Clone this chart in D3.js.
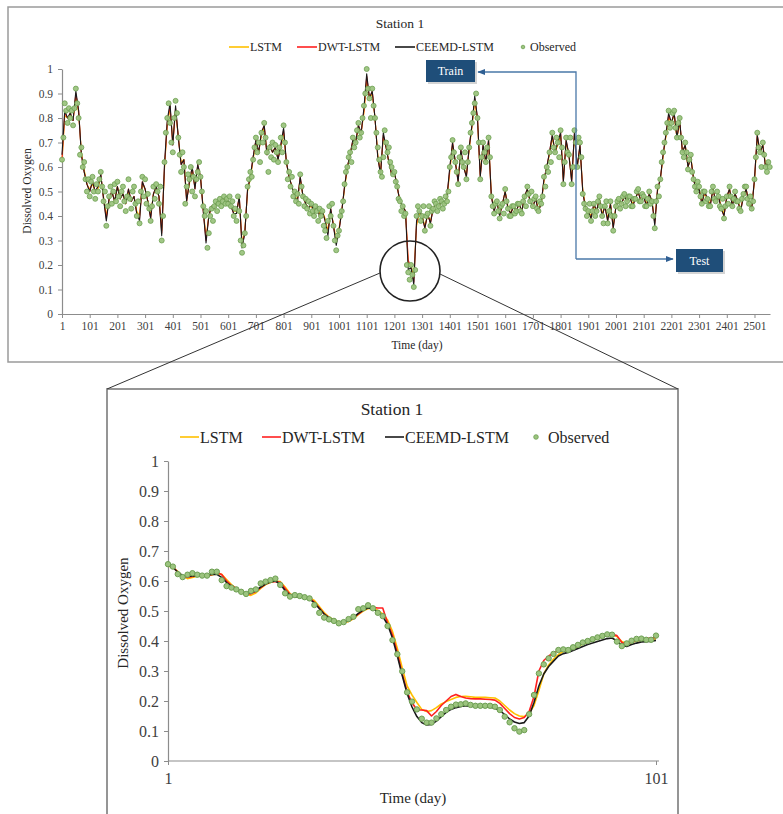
<!DOCTYPE html>
<html>
<head>
<meta charset="utf-8">
<script src="https://cdn.jsdelivr.net/npm/d3@7"></script>
<style>
  body { margin: 0; background: #fff; }
  svg text { font-family: "Liberation Serif", "Times New Roman", serif; fill: #404040; }
</style>
</head>
<body>
<div id="chart"></div>
<script>
// ---- data ----
var seriesNames = ["LSTM", "DWT-LSTM", "CEEMD-LSTM", "Observed"];
var seriesColors = ["#ffc000", "#ff2020", "#1a1a1a", "#9cc47f"];
var yTicks = [0, 0.1, 0.2, 0.3, 0.4, 0.5, 0.6, 0.7, 0.8, 0.9, 1];
var yTickLabels = ["0", "0.1", "0.2", "0.3", "0.4", "0.5", "0.6", "0.7", "0.8", "0.9", "1"];
var topXTicks = [1, 101, 201, 301, 401, 501, 601, 701, 801, 901, 1001, 1101, 1201,
                 1301, 1401, 1501, 1601, 1701, 1801, 1901, 2001, 2101, 2201, 2301, 2401, 2501];
var zoomXTicks = [1, 101];
var topLastDay = 2557;
var topObsStep = 5;    // observed record read every 5th day
var topModelStep = 10; // model curves read every 10th day

// observed, full record (day 1, 6, 11, ...), one row per 100 days
var topObserved = [
  0.63, 0.72, 0.86, 0.83, 0.78, 0.84, 0.80, 0.83, 0.77, 0.84, 0.92, 0.86, 0.80, 0.65, 0.68, 0.60, 0.62, 0.55, 0.50, 0.55,
  0.48, 0.54, 0.56, 0.50, 0.47, 0.53, 0.50, 0.55, 0.58, 0.52, 0.46, 0.50, 0.36, 0.44, 0.48, 0.52, 0.45, 0.50, 0.53, 0.46,
  0.54, 0.48, 0.44, 0.50, 0.52, 0.46, 0.42, 0.48, 0.55, 0.47, 0.43, 0.50, 0.52, 0.45, 0.40, 0.46, 0.37, 0.50, 0.56, 0.48,
  0.55, 0.45, 0.49, 0.43, 0.38, 0.44, 0.52, 0.47, 0.53, 0.50, 0.45, 0.52, 0.30, 0.40, 0.62, 0.74, 0.80, 0.86, 0.78, 0.70,
  0.66, 0.80, 0.87, 0.82, 0.72, 0.65, 0.58, 0.66, 0.60, 0.45, 0.52, 0.57, 0.55, 0.60, 0.50, 0.56, 0.48, 0.55, 0.58, 0.62,
  0.56, 0.50, 0.44, 0.40, 0.42, 0.27, 0.33, 0.40, 0.43, 0.38, 0.44, 0.46, 0.42, 0.45, 0.47, 0.44, 0.46, 0.48, 0.45, 0.47,
  0.45, 0.48, 0.44, 0.46, 0.40, 0.43, 0.38, 0.48, 0.42, 0.30, 0.25, 0.28, 0.33, 0.40, 0.52, 0.55, 0.58, 0.56, 0.63, 0.68,
  0.72, 0.66, 0.70, 0.62, 0.74, 0.70, 0.78, 0.72, 0.66, 0.58, 0.68, 0.64, 0.70, 0.63, 0.69, 0.66, 0.62, 0.68, 0.72, 0.66,
  0.77, 0.70, 0.62, 0.55, 0.58, 0.52, 0.56, 0.48, 0.50, 0.46, 0.49, 0.45, 0.57, 0.52, 0.48, 0.44, 0.47, 0.43, 0.46, 0.41,
  0.45, 0.42, 0.40, 0.44, 0.42, 0.38, 0.43, 0.40, 0.42, 0.36, 0.34, 0.31, 0.38, 0.44, 0.40, 0.45, 0.36, 0.30, 0.26, 0.32,
  0.34, 0.40, 0.42, 0.46, 0.53, 0.58, 0.60, 0.64, 0.66, 0.62, 0.72, 0.68, 0.70, 0.75, 0.78, 0.72, 0.74, 0.80, 0.85, 0.90,
  1.00, 0.92, 0.88, 0.80, 0.92, 0.85, 0.80, 0.74, 0.68, 0.63, 0.58, 0.56, 0.64, 0.75, 0.70, 0.66, 0.68, 0.62, 0.60, 0.57,
  0.58, 0.54, 0.52, 0.47, 0.46, 0.42, 0.44, 0.40, 0.41, 0.20, 0.17, 0.14, 0.20, 0.16, 0.11, 0.18, 0.40, 0.44, 0.42, 0.38,
  0.40, 0.44, 0.34, 0.40, 0.41, 0.44, 0.36, 0.42, 0.43, 0.46, 0.45, 0.42, 0.44, 0.47, 0.46, 0.43, 0.45, 0.48, 0.46, 0.50,
  0.60, 0.64, 0.71, 0.66, 0.62, 0.58, 0.53, 0.64, 0.68, 0.62, 0.60, 0.66, 0.55, 0.62, 0.68, 0.74, 0.78, 0.82, 0.86, 0.90,
  0.80, 0.70, 0.55, 0.64, 0.70, 0.66, 0.62, 0.68, 0.72, 0.64, 0.48, 0.44, 0.41, 0.45, 0.46, 0.42, 0.39, 0.44, 0.45, 0.41,
  0.51, 0.46, 0.43, 0.40, 0.40, 0.44, 0.44, 0.41, 0.42, 0.45, 0.45, 0.42, 0.41, 0.46, 0.48, 0.44, 0.52, 0.49, 0.46, 0.50,
  0.44, 0.47, 0.48, 0.43, 0.42, 0.46, 0.45, 0.48, 0.56, 0.52, 0.60, 0.58, 0.66, 0.62, 0.74, 0.68, 0.66, 0.72, 0.70, 0.64,
  0.75, 0.68, 0.53, 0.62, 0.72, 0.66, 0.65, 0.72, 0.53, 0.60, 0.75, 0.70, 0.60, 0.72, 0.70, 0.64, 0.49, 0.45, 0.43, 0.40,
  0.42, 0.45, 0.38, 0.42, 0.45, 0.40, 0.42, 0.46, 0.48, 0.44, 0.40, 0.37, 0.44, 0.46, 0.37, 0.42, 0.46, 0.40, 0.34, 0.40,
  0.44, 0.46, 0.47, 0.43, 0.45, 0.48, 0.49, 0.44, 0.46, 0.48, 0.48, 0.44, 0.44, 0.47, 0.47, 0.50, 0.51, 0.46, 0.46, 0.49,
  0.48, 0.44, 0.44, 0.47, 0.50, 0.45, 0.46, 0.40, 0.35, 0.46, 0.52, 0.48, 0.55, 0.62, 0.66, 0.70, 0.74, 0.78, 0.83, 0.76,
  0.78, 0.82, 0.83, 0.76, 0.72, 0.78, 0.80, 0.72, 0.66, 0.64, 0.70, 0.66, 0.59, 0.63, 0.65, 0.58, 0.55, 0.52, 0.50, 0.54,
  0.52, 0.48, 0.45, 0.50, 0.50, 0.46, 0.47, 0.44, 0.44, 0.50, 0.52, 0.47, 0.46, 0.50, 0.48, 0.44, 0.43, 0.47, 0.39, 0.44,
  0.48, 0.45, 0.52, 0.48, 0.44, 0.47, 0.50, 0.46, 0.46, 0.43, 0.42, 0.47, 0.49, 0.52, 0.52, 0.47, 0.45, 0.48, 0.43, 0.46,
  0.55, 0.64, 0.74, 0.68, 0.66, 0.60, 0.70, 0.65, 0.60, 0.58, 0.62, 0.60
];
// model curves, full record (day 1, 11, 21, ...)
var topCeemd = [
  0.65, 0.83, 0.80, 0.82, 0.79, 0.91, 0.83, 0.65, 0.58, 0.53,
  0.50, 0.54, 0.50, 0.52, 0.57, 0.47, 0.38, 0.47, 0.50, 0.46,
  0.52, 0.47, 0.49, 0.45, 0.51, 0.46, 0.48, 0.41, 0.38, 0.54,
  0.51, 0.46, 0.39, 0.49, 0.52, 0.48, 0.32, 0.61, 0.79, 0.86,
  0.69, 0.85, 0.72, 0.61, 0.63, 0.46, 0.54, 0.60, 0.51, 0.61,
  0.56, 0.42, 0.29, 0.40, 0.44, 0.43, 0.46, 0.45, 0.47, 0.47,
  0.46, 0.44, 0.41, 0.41, 0.48, 0.27, 0.33, 0.51, 0.56, 0.64,
  0.71, 0.66, 0.74, 0.77, 0.65, 0.69, 0.66, 0.68, 0.63, 0.69,
  0.76, 0.62, 0.56, 0.52, 0.48, 0.46, 0.56, 0.48, 0.45, 0.43,
  0.45, 0.41, 0.44, 0.40, 0.42, 0.38, 0.32, 0.43, 0.36, 0.28,
  0.34, 0.42, 0.52, 0.60, 0.65, 0.71, 0.70, 0.77, 0.74, 0.84,
  0.98, 0.88, 0.91, 0.80, 0.64, 0.57, 0.74, 0.68, 0.62, 0.57,
  0.58, 0.52, 0.46, 0.44, 0.42, 0.18, 0.19, 0.12, 0.38, 0.42,
  0.40, 0.35, 0.41, 0.37, 0.43, 0.45, 0.44, 0.46, 0.45, 0.48,
  0.60, 0.70, 0.62, 0.54, 0.67, 0.60, 0.56, 0.68, 0.77, 0.89,
  0.80, 0.56, 0.69, 0.62, 0.71, 0.48, 0.42, 0.46, 0.40, 0.45,
  0.50, 0.43, 0.41, 0.44, 0.42, 0.45, 0.42, 0.48, 0.51, 0.46,
  0.44, 0.47, 0.42, 0.45, 0.55, 0.60, 0.66, 0.73, 0.66, 0.70,
  0.74, 0.54, 0.71, 0.65, 0.54, 0.74, 0.60, 0.69, 0.50, 0.43,
  0.42, 0.39, 0.45, 0.42, 0.47, 0.40, 0.44, 0.38, 0.45, 0.35,
  0.44, 0.47, 0.45, 0.48, 0.46, 0.48, 0.44, 0.47, 0.50, 0.46,
  0.48, 0.44, 0.49, 0.46, 0.36, 0.51, 0.55, 0.65, 0.73, 0.82,
  0.78, 0.82, 0.72, 0.79, 0.66, 0.69, 0.60, 0.64, 0.55, 0.50,
  0.51, 0.45, 0.50, 0.47, 0.44, 0.51, 0.46, 0.48, 0.43, 0.40,
  0.48, 0.51, 0.44, 0.49, 0.46, 0.42, 0.48, 0.51, 0.45, 0.43,
  0.55, 0.73, 0.66, 0.69, 0.60, 0.62
];
var topLstm = [
  0.62, 0.81, 0.80, 0.81, 0.79, 0.89, 0.82, 0.66, 0.59, 0.53,
  0.51, 0.53, 0.50, 0.51, 0.56, 0.48, 0.40, 0.47, 0.50, 0.46,
  0.52, 0.47, 0.49, 0.45, 0.50, 0.46, 0.48, 0.42, 0.40, 0.53,
  0.51, 0.46, 0.40, 0.49, 0.51, 0.48, 0.34, 0.59, 0.77, 0.84,
  0.70, 0.83, 0.72, 0.62, 0.63, 0.47, 0.53, 0.59, 0.52, 0.60,
  0.56, 0.43, 0.31, 0.40, 0.44, 0.43, 0.46, 0.45, 0.47, 0.47,
  0.46, 0.44, 0.42, 0.42, 0.47, 0.29, 0.34, 0.50, 0.55, 0.63,
  0.70, 0.66, 0.73, 0.76, 0.66, 0.69, 0.66, 0.68, 0.64, 0.68,
  0.74, 0.62, 0.56, 0.52, 0.48, 0.47, 0.55, 0.48, 0.45, 0.43,
  0.44, 0.42, 0.44, 0.41, 0.42, 0.39, 0.34, 0.42, 0.37, 0.30,
  0.35, 0.42, 0.51, 0.59, 0.65, 0.70, 0.70, 0.76, 0.74, 0.82,
  0.95, 0.88, 0.90, 0.80, 0.65, 0.58, 0.72, 0.68, 0.62, 0.57,
  0.58, 0.52, 0.46, 0.44, 0.42, 0.21, 0.20, 0.15, 0.36, 0.41,
  0.40, 0.36, 0.40, 0.38, 0.43, 0.45, 0.44, 0.46, 0.45, 0.47,
  0.58, 0.69, 0.62, 0.55, 0.66, 0.60, 0.57, 0.67, 0.76, 0.87,
  0.79, 0.57, 0.68, 0.62, 0.70, 0.49, 0.43, 0.46, 0.41, 0.45,
  0.50, 0.44, 0.41, 0.44, 0.42, 0.45, 0.42, 0.47, 0.51, 0.46,
  0.44, 0.47, 0.43, 0.45, 0.54, 0.60, 0.65, 0.72, 0.66, 0.69,
  0.73, 0.55, 0.70, 0.65, 0.55, 0.73, 0.60, 0.68, 0.51, 0.44,
  0.42, 0.40, 0.44, 0.42, 0.47, 0.41, 0.44, 0.39, 0.45, 0.36,
  0.44, 0.46, 0.45, 0.48, 0.46, 0.48, 0.45, 0.47, 0.50, 0.46,
  0.48, 0.45, 0.49, 0.46, 0.38, 0.50, 0.55, 0.64, 0.72, 0.80,
  0.78, 0.81, 0.72, 0.78, 0.66, 0.69, 0.60, 0.64, 0.56, 0.50,
  0.51, 0.46, 0.49, 0.47, 0.45, 0.51, 0.46, 0.48, 0.44, 0.41,
  0.47, 0.51, 0.45, 0.49, 0.46, 0.43, 0.48, 0.51, 0.45, 0.44,
  0.54, 0.72, 0.66, 0.69, 0.61, 0.62
];
var topDwt = [
  0.63, 0.82, 0.80, 0.82, 0.79, 0.90, 0.83, 0.65, 0.58, 0.53,
  0.50, 0.54, 0.50, 0.52, 0.57, 0.47, 0.39, 0.47, 0.50, 0.46,
  0.52, 0.47, 0.49, 0.45, 0.51, 0.46, 0.48, 0.41, 0.39, 0.54,
  0.51, 0.46, 0.39, 0.49, 0.52, 0.48, 0.33, 0.60, 0.78, 0.85,
  0.69, 0.84, 0.72, 0.61, 0.63, 0.46, 0.54, 0.60, 0.51, 0.61,
  0.56, 0.42, 0.30, 0.40, 0.44, 0.43, 0.46, 0.45, 0.47, 0.47,
  0.46, 0.44, 0.41, 0.41, 0.48, 0.28, 0.33, 0.51, 0.56, 0.64,
  0.71, 0.66, 0.74, 0.77, 0.65, 0.69, 0.66, 0.68, 0.63, 0.69,
  0.75, 0.62, 0.56, 0.52, 0.48, 0.46, 0.56, 0.48, 0.45, 0.43,
  0.45, 0.41, 0.44, 0.40, 0.42, 0.38, 0.33, 0.43, 0.36, 0.29,
  0.34, 0.42, 0.52, 0.60, 0.65, 0.71, 0.70, 0.77, 0.74, 0.83,
  0.97, 0.88, 0.91, 0.80, 0.64, 0.57, 0.73, 0.68, 0.62, 0.57,
  0.58, 0.52, 0.46, 0.44, 0.42, 0.22, 0.19, 0.13, 0.37, 0.42,
  0.40, 0.35, 0.41, 0.37, 0.43, 0.45, 0.44, 0.46, 0.45, 0.48,
  0.59, 0.70, 0.62, 0.54, 0.67, 0.60, 0.56, 0.68, 0.77, 0.88,
  0.80, 0.56, 0.69, 0.62, 0.71, 0.48, 0.42, 0.46, 0.40, 0.45,
  0.50, 0.43, 0.41, 0.44, 0.42, 0.45, 0.42, 0.48, 0.51, 0.46,
  0.44, 0.47, 0.42, 0.45, 0.55, 0.60, 0.66, 0.73, 0.66, 0.70,
  0.74, 0.54, 0.71, 0.65, 0.54, 0.74, 0.60, 0.69, 0.50, 0.43,
  0.42, 0.39, 0.45, 0.42, 0.47, 0.40, 0.44, 0.38, 0.45, 0.35,
  0.44, 0.47, 0.45, 0.48, 0.46, 0.48, 0.44, 0.47, 0.50, 0.46,
  0.48, 0.44, 0.49, 0.46, 0.37, 0.51, 0.55, 0.65, 0.73, 0.81,
  0.78, 0.82, 0.72, 0.79, 0.66, 0.69, 0.60, 0.64, 0.55, 0.50,
  0.51, 0.45, 0.50, 0.47, 0.44, 0.51, 0.46, 0.48, 0.43, 0.40,
  0.48, 0.51, 0.44, 0.49, 0.46, 0.42, 0.48, 0.51, 0.45, 0.43,
  0.55, 0.73, 0.66, 0.69, 0.60, 0.62
];

// zoomed window, 101 days
var zoomObserved = [
  0.656, 0.648, 0.623, 0.613, 0.621, 0.626, 0.621, 0.618, 0.618, 0.631,
  0.631, 0.603, 0.583, 0.578, 0.572, 0.564, 0.557, 0.567, 0.572, 0.592,
  0.598, 0.603, 0.608, 0.587, 0.559, 0.548, 0.553, 0.550, 0.546, 0.542,
  0.520, 0.494, 0.478, 0.472, 0.467, 0.459, 0.463, 0.473, 0.481, 0.506,
  0.509, 0.519, 0.509, 0.494, 0.483, 0.450, 0.403, 0.356, 0.299, 0.229,
  0.198, 0.172, 0.141, 0.128, 0.128, 0.142, 0.156, 0.170, 0.181, 0.188,
  0.189, 0.192, 0.187, 0.184, 0.184, 0.184, 0.184, 0.181, 0.170, 0.148,
  0.129, 0.109, 0.098, 0.103, 0.156, 0.220, 0.292, 0.322, 0.342, 0.357,
  0.370, 0.372, 0.370, 0.379, 0.387, 0.395, 0.400, 0.406, 0.412, 0.417,
  0.422, 0.421, 0.398, 0.383, 0.392, 0.401, 0.407, 0.408, 0.404, 0.404, 0.418
];
var zoomCeemd = [
  0.655, 0.645, 0.630, 0.618, 0.615, 0.617, 0.618, 0.618, 0.620, 0.622,
  0.622, 0.612, 0.595, 0.582, 0.572, 0.563, 0.558, 0.560, 0.568, 0.580,
  0.590, 0.597, 0.600, 0.590, 0.568, 0.553, 0.548, 0.547, 0.545, 0.540,
  0.527, 0.508, 0.490, 0.477, 0.468, 0.462, 0.462, 0.468, 0.478, 0.492,
  0.503, 0.510, 0.507, 0.497, 0.482, 0.455, 0.410, 0.350, 0.285, 0.225,
  0.180, 0.148, 0.128, 0.120, 0.122, 0.133, 0.148, 0.162, 0.172, 0.178,
  0.182, 0.184, 0.183, 0.182, 0.181, 0.180, 0.179, 0.176, 0.168, 0.155,
  0.140, 0.130, 0.125, 0.128, 0.150, 0.195, 0.250, 0.290, 0.315, 0.333,
  0.350, 0.358, 0.362, 0.368, 0.375, 0.382, 0.388, 0.393, 0.398, 0.403,
  0.408, 0.410, 0.400, 0.386, 0.382, 0.388, 0.393, 0.397, 0.398, 0.399, 0.402
];
var zoomLstm = [
  0.650, 0.645, 0.632, 0.615, 0.608, 0.612, 0.616, 0.617, 0.617, 0.620,
  0.625, 0.622, 0.605, 0.588, 0.575, 0.563, 0.555, 0.552, 0.560, 0.575,
  0.588, 0.595, 0.600, 0.598, 0.580, 0.558, 0.548, 0.547, 0.546, 0.544,
  0.535, 0.515, 0.495, 0.480, 0.470, 0.463, 0.460, 0.465, 0.474, 0.488,
  0.500, 0.508, 0.510, 0.502, 0.490, 0.470, 0.432, 0.375, 0.310, 0.250,
  0.220, 0.195, 0.172, 0.165, 0.168, 0.178, 0.190, 0.198, 0.205, 0.212,
  0.215, 0.216, 0.214, 0.212, 0.212, 0.212, 0.211, 0.210, 0.200, 0.185,
  0.170, 0.158, 0.150, 0.148, 0.158, 0.185, 0.235, 0.290, 0.320, 0.340,
  0.355, 0.365, 0.370, 0.375, 0.382, 0.390, 0.396, 0.402, 0.408, 0.413,
  0.418, 0.420, 0.415, 0.398, 0.392, 0.395, 0.400, 0.403, 0.405, 0.405, 0.408
];
var zoomDwt = [
  0.655, 0.648, 0.628, 0.615, 0.612, 0.615, 0.618, 0.618, 0.618, 0.622,
  0.628, 0.622, 0.600, 0.585, 0.575, 0.565, 0.558, 0.557, 0.565, 0.578,
  0.590, 0.598, 0.598, 0.596, 0.575, 0.556, 0.550, 0.548, 0.546, 0.543,
  0.530, 0.510, 0.490, 0.478, 0.468, 0.462, 0.462, 0.467, 0.476, 0.490,
  0.502, 0.512, 0.512, 0.510, 0.510, 0.460, 0.420, 0.360, 0.290, 0.230,
  0.195, 0.170, 0.170, 0.168, 0.150, 0.165, 0.185, 0.200, 0.215, 0.222,
  0.215, 0.210, 0.208, 0.207, 0.207, 0.206, 0.205, 0.203, 0.192, 0.175,
  0.158, 0.145, 0.140, 0.145, 0.165, 0.215, 0.300, 0.335, 0.350, 0.360,
  0.368, 0.372, 0.372, 0.378, 0.386, 0.393, 0.398, 0.404, 0.410, 0.416,
  0.420, 0.422, 0.418, 0.395, 0.388, 0.397, 0.403, 0.407, 0.408, 0.410, 0.412
];

var W = 783, H = 814;
var svg = d3.select("#chart").append("svg")
  .attr("width", W).attr("height", H);

// arrow marker
var defs = svg.append("defs");
defs.append("marker").attr("id", "arr")
  .attr("viewBox", "0 0 10 10").attr("refX", 9).attr("refY", 5)
  .attr("markerWidth", 6).attr("markerHeight", 6).attr("orient", "auto-start-reverse")
  .append("path").attr("d", "M0,1 L10,5 L0,9 z").attr("fill", "#2f5f93");

// panel frames
svg.append("rect").attr("x", 8).attr("y", 7).attr("width", 800).attr("height", 355)
  .attr("fill", "none").attr("stroke", "#9a9a9a").attr("stroke-width", 1.5);
svg.append("rect").attr("x", 107).attr("y", 389).attr("width", 571).attr("height", 450)
  .attr("fill", "none").attr("stroke", "#8a8a8a").attr("stroke-width", 1.8);

function drawPanel(cfg) {
  var g = svg.append("g");
  var x = d3.scaleLinear().domain(cfg.xDomain).range(cfg.xRange);
  var y = d3.scaleLinear().domain([0, 1]).range(cfg.yRange);

  var yAxis = g.append("g")
    .attr("transform", "translate(" + cfg.xRange[0] + ",0)")
    .call(d3.axisLeft(y).tickValues(yTicks)
      .tickFormat(function(d, i) { return yTickLabels[i]; })
      .tickSize(cfg.tick).tickSizeOuter(0).tickPadding(cfg.pad));
  var xAxis = g.append("g")
    .attr("transform", "translate(0," + cfg.yRange[0] + ")")
    .call(d3.axisBottom(x).tickValues(cfg.xTicks).tickFormat(d3.format("d"))
      .tickSize(cfg.tick).tickSizeOuter(0).tickPadding(cfg.xpad));
  [yAxis, xAxis].forEach(function(a) {
    a.attr("font-family", null);
    a.select(".domain").attr("stroke", "#8c8c8c").attr("stroke-width", 1.2);
    a.selectAll(".tick line").attr("stroke", "#8c8c8c");
    a.selectAll(".tick text").attr("font-size", cfg.tickFont).attr("fill", "#404040");
  });
  if (cfg.xAxisEnd) {
    xAxis.select(".domain").attr("d", "M" + cfg.xRange[0] + ",0H" + cfg.xAxisEnd);
  }

  [cfg.lstm, cfg.dwt, cfg.ceemd].forEach(function(s, k) {
    var line = d3.line()
      .x(function(d, i) { return x(cfg.xDomain[0] + i * cfg.lineStep); })
      .y(function(d) { return y(d); });
    g.append("path").datum(s)
      .attr("d", line)
      .attr("fill", "none")
      .attr("stroke", seriesColors[k])
      .attr("stroke-width", cfg.lineW)
      .attr("stroke-linejoin", "round");
  });

  g.append("g").selectAll("circle")
    .data(cfg.obs)
    .enter().append("circle")
    .attr("cx", function(d, i) { return x(cfg.xDomain[0] + i * cfg.obsStep); })
    .attr("cy", function(d) { return y(d); })
    .attr("r", cfg.dotR)
    .attr("fill", seriesColors[3])
    .attr("fill-opacity", cfg.dotOpacity)
    .attr("stroke", "#6d9f52")
    .attr("stroke-width", cfg.dotStroke);

  // title
  svg.append("text").attr("x", cfg.title[0]).attr("y", cfg.title[1])
    .attr("text-anchor", "middle").attr("dy", "0.35em")
    .attr("font-size", cfg.titleFont).style("fill", "#262626").text("Station 1");

  // legend
  var lg = svg.append("g").attr("font-size", cfg.legFont);
  cfg.legend.forEach(function(px, k) {
    if (k < 3) {
      lg.append("line").attr("x1", px).attr("x2", px + cfg.legLine)
        .attr("y1", cfg.legY).attr("y2", cfg.legY)
        .attr("stroke", seriesColors[k]).attr("stroke-width", 1.6);
      lg.append("text").attr("x", px + cfg.legLine + 1).attr("y", cfg.legY)
        .attr("dy", "0.35em").style("fill", "#262626").text(seriesNames[k]);
    } else {
      lg.append("circle").attr("cx", px).attr("cy", cfg.legY).attr("r", cfg.legDot)
        .attr("fill", seriesColors[3]).attr("stroke", "#6d9f52").attr("stroke-width", 0.8);
      lg.append("text").attr("x", px + cfg.legGap).attr("y", cfg.legY)
        .attr("dy", "0.35em").style("fill", "#262626").text(seriesNames[3]);
    }
  });

  // axis titles
  svg.append("text").attr("x", cfg.xTitle[0]).attr("y", cfg.xTitle[1])
    .attr("text-anchor", "middle").attr("dy", "0.35em")
    .attr("font-size", cfg.axisFont).style("fill", "#262626").text("Time (day)");
  svg.append("text")
    .attr("transform", "translate(" + cfg.yTitle[0] + "," + cfg.yTitle[1] + ") rotate(-90)")
    .attr("text-anchor", "middle").attr("dy", "0.35em")
    .attr("font-size", cfg.axisFont).style("fill", "#262626").text("Dissolved Oxygen");
}

// full record panel
drawPanel({
  xDomain: [1, topLastDay], xRange: [62, 770], yRange: [314, 69],
  xTicks: topXTicks, lineStep: topModelStep, obsStep: topObsStep,
  tick: 4, pad: 5, xpad: 4, tickFont: 11.5,
  obs: topObserved, lstm: topLstm, dwt: topDwt, ceemd: topCeemd,
  lineW: 1.1, dotR: 2.5, dotStroke: 0.8, dotOpacity: 0.95,
  title: [400, 23], titleFont: 13.5,
  legY: 47, legFont: 12, legLine: 20, legDot: 1.8, legGap: 7,
  legend: [229, 297, 395, 523],
  xTitle: [417, 345], yTitle: [27, 191], axisFont: 11.5
});

// zoomed panel
drawPanel({
  xDomain: [1, 101], xRange: [168, 656], yRange: [761, 461], xAxisEnd: 659,
  xTicks: zoomXTicks, lineStep: 1, obsStep: 1,
  tick: 4, pad: 5, xpad: 8, tickFont: 16,
  obs: zoomObserved, lstm: zoomLstm, dwt: zoomDwt, ceemd: zoomCeemd,
  lineW: 1.6, dotR: 2.7, dotStroke: 1, dotOpacity: 1,
  title: [392, 409], titleFont: 17.5,
  legY: 437, legFont: 16, legLine: 19, legDot: 2.3, legGap: 12,
  legend: [180, 262, 385, 536],
  xTitle: [413, 798], yTitle: [123, 613], axisFont: 15
});

// magnifier circle and connectors
svg.append("circle").attr("cx", 410).attr("cy", 271).attr("r", 30)
  .attr("fill", "none").attr("stroke", "#222").attr("stroke-width", 1.6);
svg.append("line").attr("x1", 380).attr("y1", 273).attr("x2", 107).attr("y2", 389)
  .attr("stroke", "#333").attr("stroke-width", 1);
svg.append("line").attr("x1", 440).attr("y1", 274).attr("x2", 678).attr("y2", 389)
  .attr("stroke", "#333").attr("stroke-width", 1);

// train / test split annotation
var split = svg.append("g");
split.append("path").attr("d", "M576,259 V72 H478")
  .attr("fill", "none").attr("stroke", "#4a78a8").attr("stroke-width", 1.3)
  .attr("marker-end", "url(#arr)");
split.append("path").attr("d", "M576,259 H673")
  .attr("fill", "none").attr("stroke", "#4a78a8").attr("stroke-width", 1.3)
  .attr("marker-end", "url(#arr)");
[[426, 60, 49, 22, "Train"], [676, 249, 47, 23, "Test"]].forEach(function(b) {
  split.append("rect").attr("x", b[0] + 2).attr("y", b[1] + 2).attr("width", b[2]).attr("height", b[3])
    .attr("fill", "#b8b8b8").attr("opacity", 0.6);
  split.append("rect").attr("x", b[0]).attr("y", b[1]).attr("width", b[2]).attr("height", b[3])
    .attr("fill", "#1f4e79");
  split.append("text").attr("x", b[0] + b[2] / 2).attr("y", b[1] + b[3] / 2)
    .attr("dy", "0.35em").attr("text-anchor", "middle").attr("font-size", 12)
    .style("fill", "#fff").text(b[4]);
});
</script>
</body>
</html>
